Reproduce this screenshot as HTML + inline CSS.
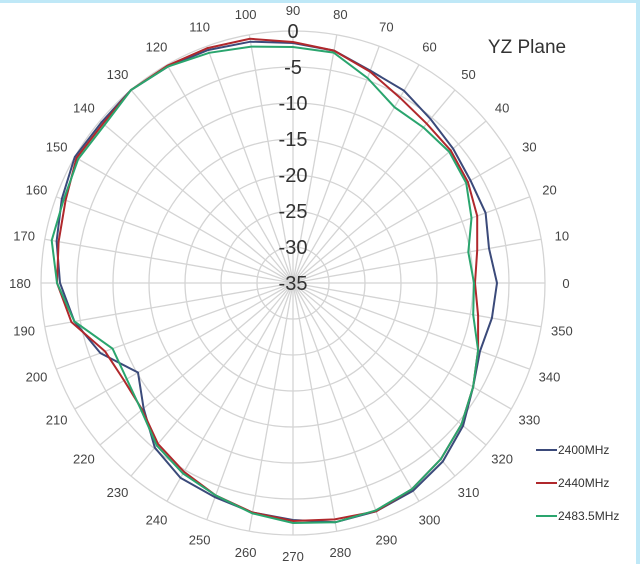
<!DOCTYPE html>
<html><head><style>
html,body{margin:0;padding:0;background:#fff;}
svg{display:block;}
</style></head><body>
<svg id="s" width="640" height="564" xmlns="http://www.w3.org/2000/svg" font-family="Liberation Sans, sans-serif">
<rect x="0" y="0" width="640" height="564" fill="#fff"/>
<rect x="0" y="0" width="640" height="3" fill="#bfe8f7"/>
<rect x="636" y="0" width="4" height="564" fill="#bfe8f7"/>
<g id="grid"></g>
<g id="curves"></g>
<g id="labels" font-size="13" fill="#444" text-anchor="middle"></g>
<g id="rlabels" font-size="20" fill="#333" text-anchor="middle"></g>
<text x="527" y="53" font-size="19" fill="#333" text-anchor="middle">YZ Plane</text>
<g font-size="12" fill="#333">
<line x1="536" y1="450" x2="557" y2="450" stroke="#3b4a7a" stroke-width="2"/><text x="558" y="454">2400MHz</text>
<line x1="536" y1="483" x2="557" y2="483" stroke="#b0282c" stroke-width="2"/><text x="558" y="487">2440MHz</text>
<line x1="536" y1="516" x2="557" y2="516" stroke="#2aa56e" stroke-width="2"/><text x="558" y="520">2483.5MHz</text>
</g>
</svg>
<script>
var cx=293,cy=283,R=252,NS="http://www.w3.org/2000/svg";
function el(t,a,p){var e=document.createElementNS(NS,t);for(var k in a)e.setAttribute(k,a[k]);p.appendChild(e);return e;}
var g=document.getElementById('grid');
for(var i=1;i<=7;i++)el('circle',{cx:cx,cy:cy,r:R*i/7,fill:'none',stroke:'#d4d4d4','stroke-width':1.3},g);
for(var a=0;a<360;a+=10){var t=a*Math.PI/180;el('line',{x1:cx,y1:cy,x2:cx+R*Math.cos(t),y2:cy-R*Math.sin(t),stroke:'#d4d4d4','stroke-width':1.3},g);
var L=document.getElementById('labels');var tx=el('text',{x:(cx+273*Math.cos(t)).toFixed(1),y:(cy-273*Math.sin(t)+5).toFixed(1)},L);tx.textContent=a;}
var rl=document.getElementById('rlabels');
for(var i=0;i<=7;i++){var tt=el('text',{x:cx,y:cy-R*(7-i)/7+7},rl);tt.textContent=i==0?'0':'-'+(i*5);}
var data={
'#3b4a7a':[204,199,205,205,209,214,222,226,236,240,245,248,250,252,250,252,246,240,233,222,205,179,195,215,225,228,233,237,243,243,240,233,222,208,199,202],
'#b0282c':[182,187,196,202,206,208,214,225,236,241,248,250,251,252,248,250,242,238,236,225,200,195,197,210,218,226,233,238,240,243,238,230,220,208,197,188],
'#2aa56e':[181,178,190,200,204,203,203,218,234,236,240,245,250,252,246,248,244,245,236,222,192,192,198,212,220,226,234,240,243,242,238,230,220,208,197,183]};
var c=document.getElementById('curves');
for(var col in data){var pts=data[col].map(function(r,i){var t=i*10*Math.PI/180;return (cx+r*Math.cos(t)).toFixed(1)+','+(cy-r*Math.sin(t)).toFixed(1);});
el('polygon',{points:pts.join(' '),fill:'none',stroke:col,'stroke-width':2},c);}
</script>
</body></html>
